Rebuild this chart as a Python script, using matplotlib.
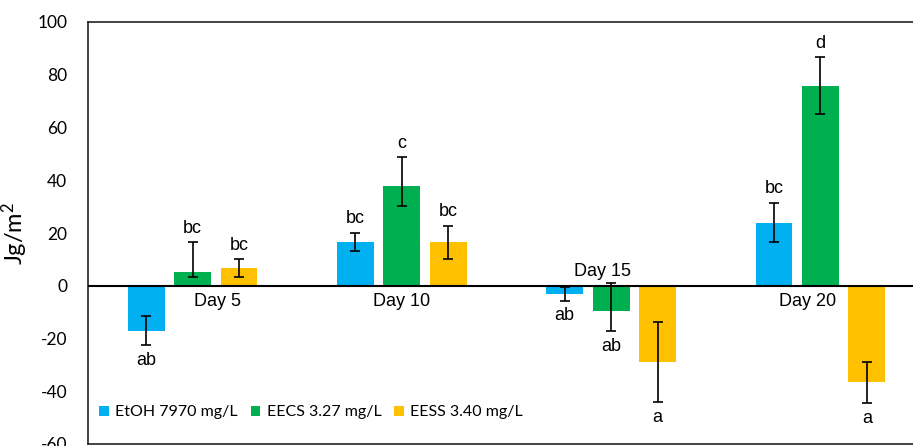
import numpy as np
import matplotlib
matplotlib.use("Agg")
import matplotlib.pyplot as plt

plt.rcParams["axes.unicode_minus"] = False
plt.rcParams["mathtext.fontset"] = "custom"
plt.rcParams["mathtext.rm"] = "Lato"
plt.rcParams["mathtext.it"] = "Lato"

# values
days = ["Day 5", "Day 10", "Day 15", "Day 20"]
series = ["EtOH 7970 mg/L", "EECS 3.27 mg/L", "EESS 3.40 mg/L"]
colors = ["#00B0F0", "#00B050", "#FFC000"]

etoh = [-17.0, 16.5, -3.1, 23.9]
eecs = [5.4, 38.0, -9.5, 75.8]
eess = [6.9, 16.5, -29.0, -36.6]

etoh_err_lo = [5.6, 3.5, 2.5, 7.3]
etoh_err_hi = [5.6, 3.5, 2.5, 7.5]
eecs_err_lo = [1.9, 7.6, 7.8, 10.8]
eecs_err_hi = [11.0, 10.7, 10.5, 10.8]
eess_err_lo = [3.4, 6.2, 15.2, 8.0]
eess_err_hi = [3.2, 6.2, 15.1, 7.6]

etoh_letters = ["ab", "bc", "ab", "bc"]
eecs_letters = ["bc", "c", "ab", "d"]
eess_letters = ["bc", "bc", "a", "a"]

values = [etoh, eecs, eess]
errs = [(etoh_err_lo, etoh_err_hi), (eecs_err_lo, eecs_err_hi), (eess_err_lo, eess_err_hi)]
letters = [etoh_letters, eecs_letters, eess_letters]

W, H = 913, 446
fig = plt.figure(figsize=(W / 100, H / 100), dpi=100)
ax = fig.add_axes([88 / W, 2 / H, 837 / W, 422 / H])

tick_font = "Lato"
txt_font = "Liberation Sans"

x = np.arange(len(days))
width = 0.176
step = 0.222

for i in range(3):
    pos = x + (i - 1) * step
    ax.bar(pos, values[i], width, color=colors[i], label=series[i], zorder=2)
    ax.errorbar(pos, values[i], yerr=[errs[i][0], errs[i][1]], fmt="none",
                ecolor="black", elinewidth=1.2, capsize=3.5, capthick=1.2, zorder=3)
    for j, p in enumerate(pos):
        v = values[i][j]
        if v >= 0:
            ax.annotate(letters[i][j], (p, v + errs[i][1][j]), xytext=(0, 4),
                        textcoords="offset points", ha="center", va="bottom",
                        fontsize=13, family=txt_font)
        else:
            ax.annotate(letters[i][j], (p, v - errs[i][0][j]), xytext=(0, -5),
                        textcoords="offset points", ha="center", va="top",
                        fontsize=13, family=txt_font)

ax.axhline(0, color="black", lw=1.5, zorder=4)

# category labels sit at the zero line, Day 15 above it (nudged like the original)
nudge = [18, 0, -6, -9]
for k, d in enumerate(days):
    if d == "Day 15":
        ax.annotate(d, (k, 0), xytext=(nudge[k], 4), textcoords="offset points",
                    ha="center", va="bottom", fontsize=13, family=txt_font)
    else:
        ax.annotate(d, (k, 0), xytext=(nudge[k], -5), textcoords="offset points",
                    ha="center", va="top", fontsize=13, family=txt_font)

ax.set_xlim(-0.5, 3.5)
ax.set_ylim(-60, 100)
ax.set_yticks(np.arange(-60, 101, 20))
ax.set_xticks([])
ax.tick_params(axis="y", length=0, pad=15)
for lab in ax.get_yticklabels():
    lab.set_family(tick_font)
    lab.set_fontsize(12.5)
ax.set_ylabel("Jg/m$^2$", family=tick_font, fontsize=17, labelpad=5)

for s in ax.spines.values():
    s.set_linewidth(1.2)
    s.set_color("#222222")

leg = ax.legend(loc="center left", bbox_to_anchor=(0.0, 0.075), ncol=3, frameon=False,
                prop={"family": tick_font, "size": 11.5}, handlelength=0.6, handleheight=0.6,
                handletextpad=0.4, columnspacing=0.8, borderaxespad=0.3)

fig.savefig("out.png", dpi=100)
